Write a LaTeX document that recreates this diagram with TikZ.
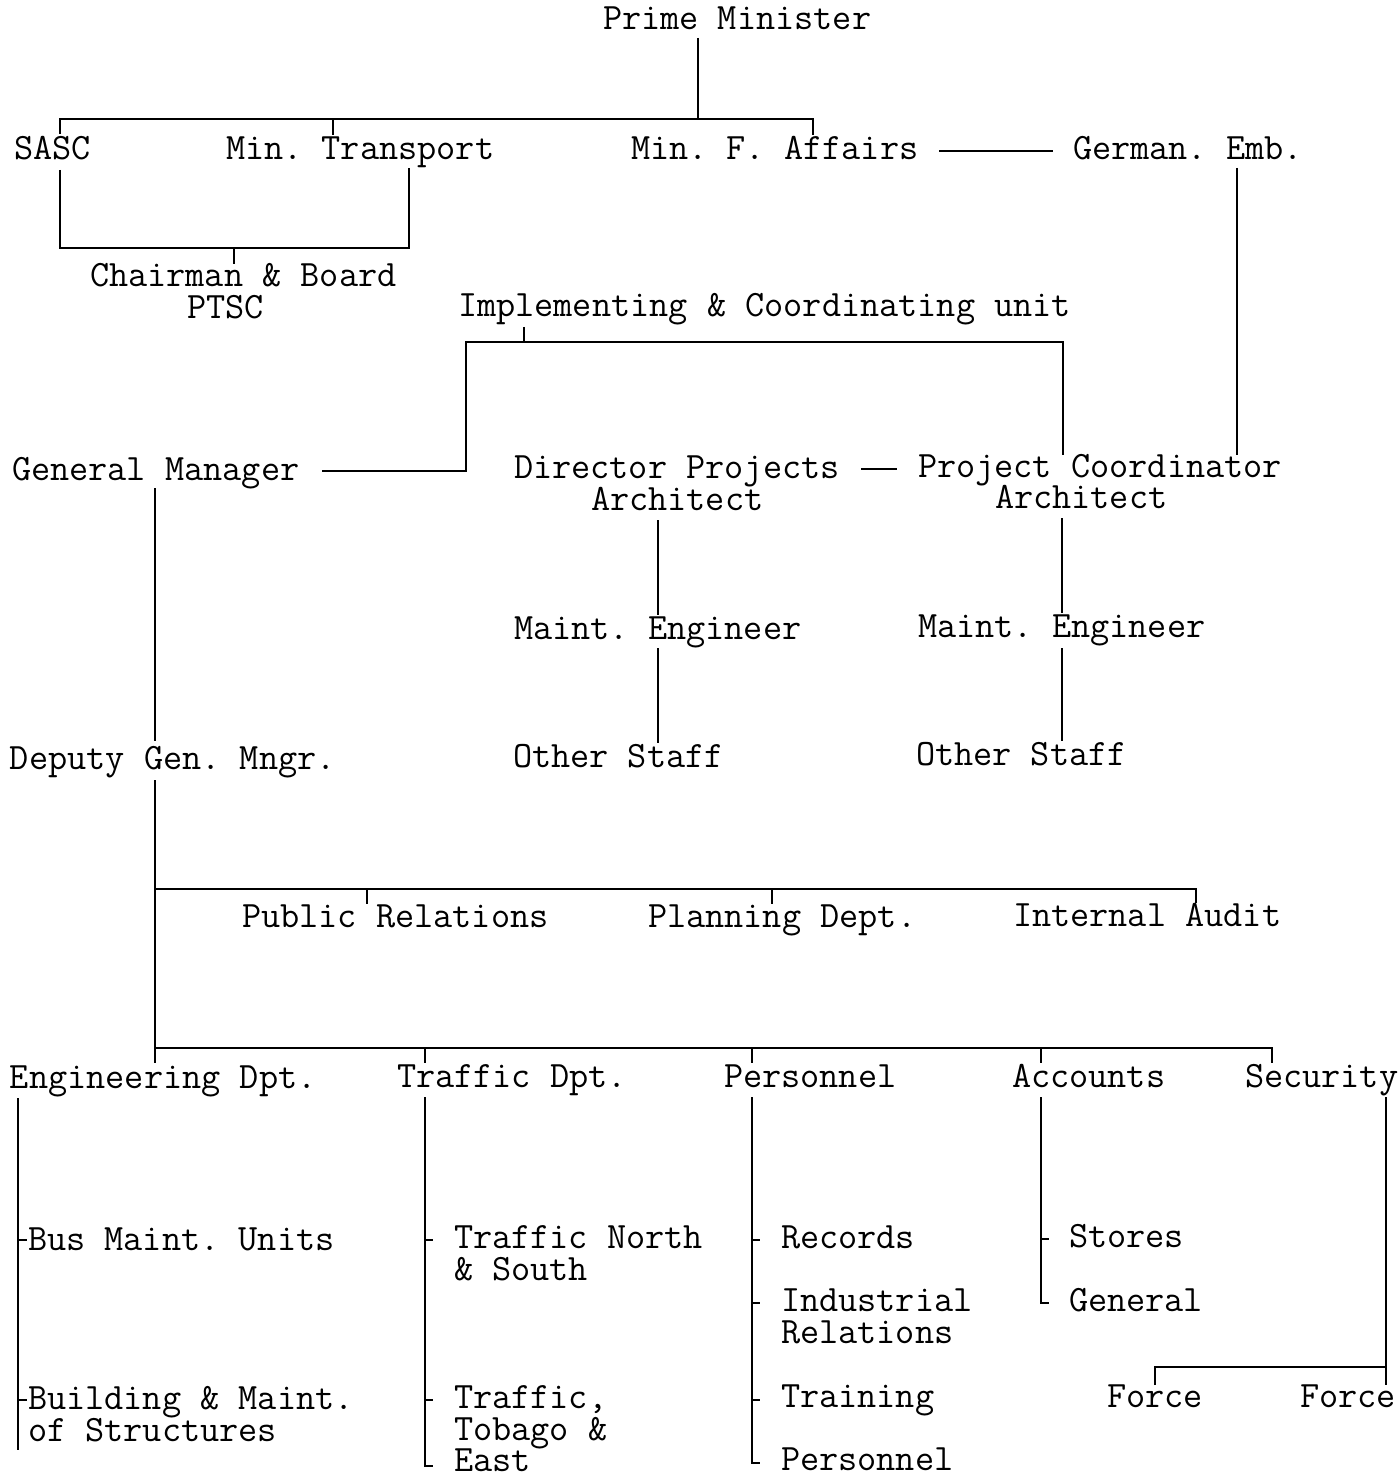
\documentclass[tikz,border=0pt]{standalone}
\usepackage{fontspec}
\newcommand{\chartfont}{\ttfamily\frenchspacing\fontsize{18.6}{22}\selectfont}
\begin{document}
\begin{tikzpicture}[x=0.5pt,y=-0.5pt,
  lbl/.style={inner sep=0pt,outer sep=0pt,anchor=base west,font=\chartfont},
  link/.style={line width=0.9pt,line cap=butt,line join=miter}]
\useasboundingbox (0,0) rectangle (1400,1476);
% ---------- nodes ----------
\node[lbl] (pm)   at (603,30)  {Prime Minister};
\node[lbl] (sasc) at (14,160)  {SASC};
\node[lbl] (mt)   at (226,160) {Min. Transport};
\node[lbl] (mfa)  at (631,160) {Min. F. Affairs};
\node[lbl] (ge)   at (1073,160) {German. Emb.};
\node[lbl] (cb)   at (90,287)  {Chairman \& Board};
\node[lbl] (ptsc) at (187,319) {PTSC};
\node[lbl] (icu)  at (458,317) {Implementing \& Coordinating unit};
\node[lbl] (gm)   at (12,480)  {General Manager};
\node[lbl] (dp)   at (514,478) {Director Projects};
\node[lbl] (dpa)  at (591,510) {Architect};
\node[lbl] (pc)   at (918,477) {Project Coordinator};
\node[lbl] (pca)  at (995,508) {Architect};
\node[lbl] (meA)  at (514,639) {Maint. Engineer};
\node[lbl] (meB)  at (918,637) {Maint. Engineer};
\node[lbl] (osA)  at (513,767) {Other Staff};
\node[lbl] (osB)  at (916,765) {Other Staff};
\node[lbl] (dgm)  at (10,769)  {Deputy Gen. Mngr.};
\node[lbl] (pr)   at (242,927) {Public Relations};
\node[lbl] (pd)   at (648,927) {Planning Dept.};
\node[lbl] (ia)   at (1013,926) {Internal Audit};
\node[lbl] (eng)  at (10,1088) {Engineering Dpt.};
\node[lbl] (tr)   at (397,1087) {Traffic Dpt.};
\node[lbl] (per)  at (724,1087) {Personnel};
\node[lbl] (acc)  at (1012,1087) {Accounts};
\node[lbl] (sec)  at (1245,1087) {Security};
\node[lbl] (bmu)  at (28,1250) {Bus Maint. Units};
\node[lbl] (bldA) at (28,1409) {Building \& Maint.};
\node[lbl] (bldB) at (28,1441) {of Structures};
\node[lbl] (tnA)  at (454,1248) {Traffic North};
\node[lbl] (tnB)  at (454,1280) {\& South};
\node[lbl] (ttA)  at (454,1408) {Traffic,};
\node[lbl] (ttB)  at (454,1440) {Tobago \&};
\node[lbl] (ttC)  at (454,1471) {East};
\node[lbl] (rec)  at (781,1248) {Records};
\node[lbl] (irA)  at (781,1311) {Industrial};
\node[lbl] (irB)  at (781,1343) {Relations};
\node[lbl] (trn)  at (781,1407) {Training};
\node[lbl] (perB) at (781,1470) {Personnel};
\node[lbl] (sto)  at (1069,1247) {Stores};
\node[lbl] (gen)  at (1069,1311) {General};
\node[lbl] (fA)   at (1107,1407) {Force};
\node[lbl] (fB)   at (1300,1407) {Force};
% ---------- connector coordinates ----------
\coordinate (pmB)  at (698,38);
\coordinate (topJ) at (698,119);
\coordinate (sascT) at (60,134);
\coordinate (mtT)  at (333,135);
\coordinate (mfaT) at (813,135);
\coordinate (sascB) at (60,170);
\coordinate (mtB)  at (409,168);
\coordinate (cbT)  at (234,264);
\coordinate (mfaR) at (939,151);
\coordinate (geL)  at (1053,151);
\coordinate (geB)  at (1237,168);
\coordinate (pcT2) at (1237,455);
\coordinate (icuB) at (524,327);
\coordinate (gmR)  at (322,471);
\coordinate (pcT)  at (1063,455);
\coordinate (dpR)  at (861,469);
\coordinate (pcL)  at (897,469);
\coordinate (dpaB) at (658,520);
\coordinate (meAT) at (658,615);
\coordinate (meAB) at (658,648);
\coordinate (osAT) at (658,743);
\coordinate (pcaB) at (1062,518);
\coordinate (meBT) at (1062,613);
\coordinate (meBB) at (1062,648);
\coordinate (osBT) at (1062,741);
\coordinate (gmB)  at (155,488);
\coordinate (dgmT) at (155,741);
\coordinate (dgmB) at (155,780);
\coordinate (engT) at (155,1063);
\coordinate (prT)  at (367,904);
\coordinate (pdT)  at (772,904);
\coordinate (iaT)  at (1196,903);
\coordinate (trT)  at (425,1063);
\coordinate (perT) at (752,1063);
\coordinate (accT) at (1041,1063);
\coordinate (secT) at (1272,1063);
% ---------- connectors ----------
\draw[link] (pmB) -- (topJ);
\draw[link] (sascT) -- (60,119) -- (813,119) -- (mfaT);
\draw[link] (333,119) -- (mtT);
\draw[link] (sascB) -- (60,248) -- (409,248) -- (mtB);
\draw[link] (234,248) -- (cbT);
\draw[link] (mfaR) -- (geL);
\draw[link] (geB) -- (pcT2);
\draw[link] (icuB) -- (524,342);
\draw[link] (gmR) -- (466,471) -- (466,342) -- (1063,342) -- (pcT);
\draw[link] (dpR) -- (pcL);
\draw[link] (dpaB) -- (meAT);
\draw[link] (meAB) -- (osAT);
\draw[link] (pcaB) -- (meBT);
\draw[link] (meBB) -- (osBT);
\draw[link] (gmB) -- (dgmT);
\draw[link] (dgmB) -- (engT);
\draw[link] (155,889) -- (1196,889) -- (iaT);
\draw[link] (367,889) -- (prT);
\draw[link] (772,889) -- (pdT);
\draw[link] (155,1048) -- (1272,1048) -- (secT);
\draw[link] (425,1048) -- (trT);
\draw[link] (752,1048) -- (perT);
\draw[link] (1041,1048) -- (accT);
% engineering
\draw[link] (18,1098) -- (18,1450);
\draw[link] (18,1240) -- (27,1240);
\draw[link] (18,1400) -- (27,1400);
% traffic
\draw[link] (425,1097) -- (425,1466) -- (433,1466);
\draw[link] (425,1240) -- (433,1240);
\draw[link] (425,1400) -- (433,1400);
% personnel
\draw[link] (752,1097) -- (752,1463) -- (760,1463);
\draw[link] (752,1240) -- (760,1240);
\draw[link] (752,1303) -- (760,1303);
\draw[link] (752,1400) -- (760,1400);
% accounts
\draw[link] (1041,1097) -- (1041,1303) -- (1049,1303);
\draw[link] (1041,1239) -- (1049,1239);
% security
\draw[link] (1386,1097) -- (1386,1385);
\draw[link] (1155,1385) -- (1155,1367) -- (1386,1367);
\end{tikzpicture}
\end{document}
